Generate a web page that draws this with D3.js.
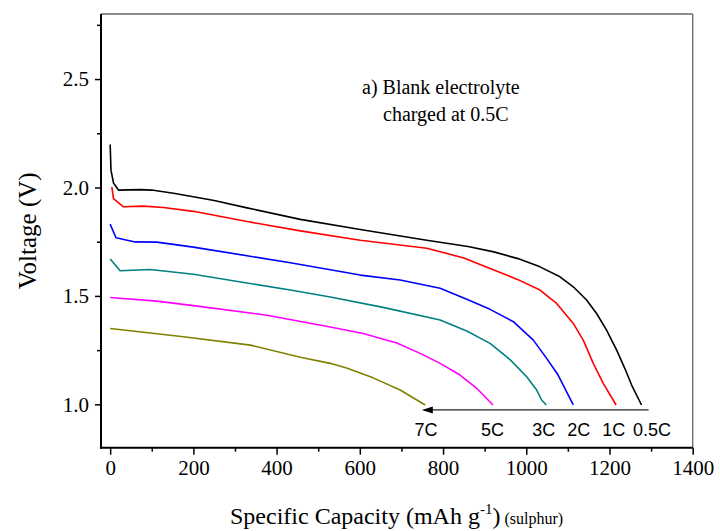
<!DOCTYPE html>
<html>
<head>
<meta charset="utf-8">
<script src="https://cdn.jsdelivr.net/npm/d3@7"></script>
<style>
  body { margin: 0; background: #fff; }
  svg { display: block; }
  .tickText { font-family: "Liberation Serif", "Times New Roman", serif; font-size: 21px; fill: #000; }
  .rateText { font-family: "Liberation Sans", Arial, sans-serif; font-size: 18px; fill: #000; }
</style>
</head>
<body>
<div id="chart"></div>
<script>
// rates + colours of the discharge curves
var rates = ["0.5C", "1C", "2C", "3C", "5C", "7C"];
var colors = ["#000000", "#ff0000", "#0000ff", "#008080", "#ff00ff", "#808000"];

// capacity (mAh/g) and voltage (V), one pair per rate
var cap05 = [0, 2, 8, 20, 72, 100, 156, 250, 329, 457, 601, 761, 860, 922, 980, 1033, 1081, 1113, 1145, 1169, 1193, 1217, 1237, 1253, 1277];
var volt05 = [2.198, 2.08, 2.021, 1.988, 1.99, 1.988, 1.972, 1.94, 1.906, 1.853, 1.806, 1.757, 1.728, 1.703, 1.672, 1.634, 1.588, 1.542, 1.481, 1.419, 1.342, 1.251, 1.165, 1.09, 0.997];

var cap1 = [4, 8, 32, 80, 128, 200, 329, 457, 601, 761, 850, 922, 980, 1033, 1073, 1113, 1137, 1161, 1185, 1216];
var volt1 = [2.003, 1.949, 1.911, 1.914, 1.908, 1.89, 1.843, 1.80, 1.757, 1.72, 1.675, 1.62, 1.575, 1.527, 1.465, 1.373, 1.296, 1.189, 1.097, 0.997];

var cap2 = [0, 14, 60, 112, 200, 433, 601, 697, 793, 857, 913, 969, 1017, 1049, 1075, 1113];
var volt2 = [1.831, 1.768, 1.749, 1.748, 1.725, 1.653, 1.596, 1.573, 1.535, 1.485, 1.438, 1.381, 1.296, 1.212, 1.14, 0.997];

var cap3 = [0, 24, 96, 200, 433, 529, 656, 793, 857, 913, 961, 1001, 1025, 1037, 1048];
var volt3 = [1.67, 1.616, 1.622, 1.60, 1.527, 1.495, 1.447, 1.389, 1.338, 1.281, 1.206, 1.127, 1.066, 1.02, 0.997];

var cap5 = [0, 112, 200, 377, 529, 608, 689, 745, 793, 841, 881, 920];
var volt5 = [1.493, 1.476, 1.455, 1.411, 1.357, 1.327, 1.283, 1.235, 1.189, 1.135, 1.074, 0.997];

var cap7 = [0, 176, 337, 457, 529, 568, 632, 697, 757];
var volt7 = [1.35, 1.312, 1.273, 1.217, 1.189, 1.168, 1.122, 1.066, 0.997];

var capList = [cap05, cap1, cap2, cap3, cap5, cap7];
var voltList = [volt05, volt1, volt2, volt3, volt5, volt7];

// tick values
var xMajor = [0, 200, 400, 600, 800, 1000, 1200, 1400];
var xMinor = [100, 300, 500, 700, 900, 1100, 1300];
var yMajor = [1.0, 1.5, 2.0, 2.5];
var yMinor = [1.25, 1.75, 2.25, 2.75];

// rate labels under the arrow (capacity where each label sits)
var labelCap = [1302, 1210, 1126, 1042, 919, 759];
var labelVolt = 0.856;
// arrow from high capacity to low capacity
var arrowCap = [1294, 749];
var arrowVolt = 0.974;

var width = 720, height = 531;
var plotL = 101, plotT = 14, plotR = 692.7, plotB = 447.7;

var svg = d3.select('#chart').append('svg')
    .attr('width', width)
    .attr('height', height);

var scaleX = d3.scaleLinear().domain([-22, 1400]).range([plotL, plotR]);
var scaleY = d3.scaleLinear().domain([0.8, 2.8]).range([plotB, plotT]);

// top + right frame lines (grey, no ticks)
svg.append('line')
    .attr('x1', plotL).attr('x2', plotR).attr('y1', plotT).attr('y2', plotT)
    .attr('stroke', '#666').attr('stroke-width', 1.3);
svg.append('line')
    .attr('x1', plotR).attr('x2', plotR).attr('y1', plotT).attr('y2', plotB)
    .attr('stroke', '#666').attr('stroke-width', 1.3);

// minor ticks
var xMinorAxis = d3.axisBottom(scaleX).tickValues(xMinor).tickSize(4).tickFormat('');
var yMinorAxis = d3.axisLeft(scaleY).tickValues(yMinor).tickSize(4).tickFormat('');
svg.append('g').attr('transform', 'translate(0,' + plotB + ')').call(xMinorAxis);
svg.append('g').attr('transform', 'translate(' + plotL + ',0)').call(yMinorAxis);

// major axes
var xAxis = d3.axisBottom(scaleX).tickValues(xMajor).tickSize(7).tickPadding(5).tickFormat(d3.format('d'));
var yAxis = d3.axisLeft(scaleY).tickValues(yMajor).tickSize(6).tickPadding(6).tickFormat(d3.format('.1f'));
var gx = svg.append('g').attr('transform', 'translate(0,' + plotB + ')').call(xAxis);
var gy = svg.append('g').attr('transform', 'translate(' + plotL + ',0)').call(yAxis);

[gx, gy].forEach(function(g) {
    g.attr('font-size', null).attr('font-family', null);
    g.selectAll('text').attr('class', 'tickText');
});
svg.selectAll('.domain').remove();
svg.selectAll('.tick line').attr('stroke', '#000').attr('stroke-width', 1.5);

// left + bottom axis lines
svg.append('line')
    .attr('x1', plotL).attr('x2', plotL).attr('y1', plotT).attr('y2', plotB + 1)
    .attr('stroke', '#000').attr('stroke-width', 2);
svg.append('line')
    .attr('x1', plotL - 1).attr('x2', plotR).attr('y1', plotB).attr('y2', plotB)
    .attr('stroke', '#000').attr('stroke-width', 2);

// curves
var line = d3.line()
    .x(function(d) { return scaleX(d[0]); })
    .y(function(d) { return scaleY(d[1]); });

rates.forEach(function(r, i) {
    var pts = capList[i].map(function(c, j) { return [c, voltList[i][j]]; });
    svg.append('path')
        .datum(pts)
        .attr('d', line)
        .attr('fill', 'none')
        .attr('stroke', colors[i])
        .attr('stroke-width', 1.6)
        .attr('stroke-linejoin', 'round');
});

// arrow
var ax0 = scaleX(arrowCap[0]), ax1 = scaleX(arrowCap[1]), ay = scaleY(arrowVolt);
svg.append('line')
    .attr('x1', ax0).attr('x2', ax1 + 10)
    .attr('y1', ay).attr('y2', ay)
    .attr('stroke', '#222').attr('stroke-width', 1.2);
svg.append('path')
    .attr('d', 'M' + ax1 + ',' + ay + ' l11,-3.5 l0,7 Z')
    .attr('fill', '#000');

// rate labels
svg.selectAll('.rateText').data(rates).enter()
    .append('text')
    .attr('class', 'rateText')
    .attr('x', function(d, i) { return scaleX(labelCap[i]); })
    .attr('y', scaleY(labelVolt))
    .attr('text-anchor', 'middle')
    .text(function(d) { return d; });

// annotation
var note = svg.append('text')
    .attr('font-family', '"Liberation Serif", "Times New Roman", serif')
    .attr('font-size', 20)
    .attr('fill', '#000');
note.append('tspan').attr('x', 362).attr('y', 94).text('a) Blank electrolyte');
note.append('tspan').attr('x', 383).attr('y', 121).text('charged at 0.5C');

// y axis title
svg.append('text')
    .attr('transform', 'translate(36,' + ((plotT + plotB) / 2) + ') rotate(-90)')
    .attr('text-anchor', 'middle')
    .attr('font-family', '"Liberation Serif", "Times New Roman", serif')
    .attr('font-size', 25)
    .text('Voltage (V)');

// x axis title
var xt = svg.append('text')
    .attr('x', 230).attr('y', 524)
    .attr('font-family', '"Liberation Serif", "Times New Roman", serif')
    .attr('font-size', 24);
xt.append('tspan').text('Specific Capacity (mAh g');
xt.append('tspan').attr('font-size', 15).attr('dy', -10).text('-1');
xt.append('tspan').attr('dy', 10).text(')');
xt.append('tspan').attr('font-size', 16).text(' (sulphur)');
</script>
</body>
</html>
